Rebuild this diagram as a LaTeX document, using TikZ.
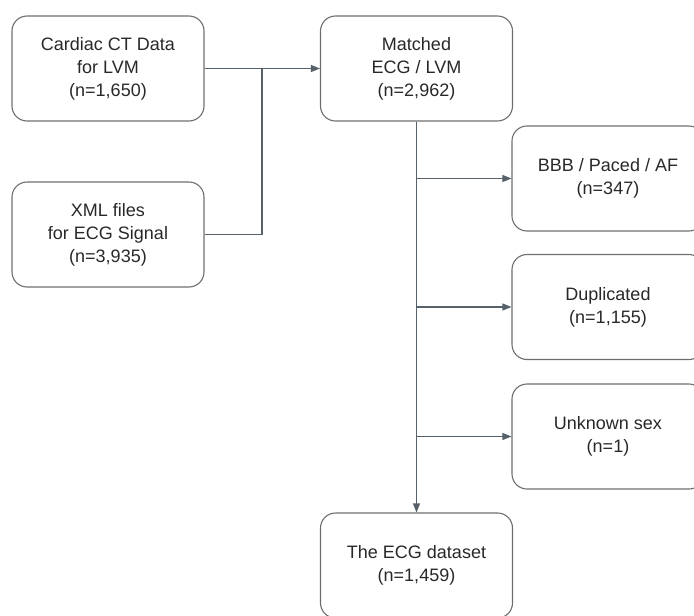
\documentclass[tikz,border=0pt]{standalone}
\usepackage{fontspec}
\setmainfont{Liberation Sans}
\usetikzlibrary{arrows.meta,positioning}

\definecolor{edgegray}{RGB}{86,97,105}
\definecolor{boxgray}{RGB}{110,110,110}
\definecolor{txtgray}{RGB}{40,40,40}

\begin{document}
\begin{tikzpicture}[
  x=1pt, y=-1pt,
  box/.style={draw=boxgray, line width=1.1pt, rounded corners=15pt,
              minimum width=192pt, minimum height=105pt, align=center,
              text=txtgray, font=\fontsize{18}{23}\selectfont},
  arr/.style={-{Triangle[length=9pt, width=7pt]}, line width=1.2pt, draw=edgegray},
  ln/.style={line width=1.2pt, draw=edgegray}
]
\useasboundingbox (0,0) rectangle (694,616);

% ---------------- sources ----------------
\node[box] (ct)  at (108, 68.5)  {Cardiac CT Data\\for LVM\\(n=1,650)};
\node[box] (xml) at (108, 234.5) {XML files\\for ECG Signal\\(n=3,935)};

% ---------------- main column ----------------
\node[box] (match) at (416.5, 68.5)  {Matched\\ECG / LVM\\(n=2,962)};
\node[box] (ecg)   at (416.5, 565.5) {The ECG dataset\\(n=1,459)};

% ---------------- exclusions ----------------
\node[box] (bbb) at (608, 178.5) {BBB / Paced / AF\\(n=347)};
\node[box] (dup) at (608, 307)   {Duplicated\\(n=1,155)};
\node[box] (unk) at (608, 436.5) {Unknown sex\\(n=1)};

% merge of the two sources
\coordinate (join) at (262, 68.5);
\draw[arr] (ct.east) -- (match.west);
\draw[ln] (xml.east) -| (join);

% trunk and side branches
\draw[arr] (match.south) -- (ecg.north);
\draw[arr] (match.south |- bbb.west) -- (bbb.west);
\draw[arr] (match.south |- dup.west) -- (dup.west);
\draw[arr] (match.south |- unk.west) -- (unk.west);

\end{tikzpicture}
\end{document}
